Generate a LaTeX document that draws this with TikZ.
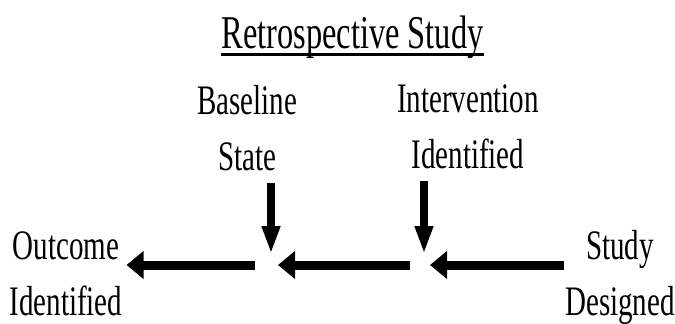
\documentclass[tikz,border=0pt]{standalone}
\usepackage{fontspec}
\setmainfont{Liberation Serif}[FakeStretch=0.69]
\usepackage{xcolor}
\RequirePackage{tikz}
\usetikzlibrary{positioning,calc,arrows.meta}
\tikzset{
	lbl/.style={inner sep=0pt, align=center, anchor=base, font=\fontsize{42}{56}\selectfont},
	harrow/.style={line width=9pt, -{Triangle[length=17pt,width=27pt]}},
	varrow/.style={line width=7.5pt, -{Triangle[length=28pt,width=17pt]}}
}

\begin{document}
\begin{tikzpicture}[x=1pt, y=-1pt]
				\useasboundingbox (0,0) rectangle (675,324);
				\node[lbl, font=\fontsize{47}{56}\selectfont] (title) at (352.5,48) {Retrospective Study};
				\draw [line width=3pt] ([yshift=-6pt]title.base west) -- ([yshift=-6pt]title.base east);
				\node[lbl] (baseline) at (247,170) {Baseline\\State};
				\node[lbl] (interv) at (468,168) {Intervention\\Identified};
				\node[lbl] (outcome) at (66,315) {Outcome\\Identified};
				\node[lbl] (study) at (620,315) {Study\\Designed};
				\coordinate (jb) at (271,265);
				\coordinate (ji) at (424,265);
				\draw [varrow] (baseline.south -| jb) ++(0,12) -- ([yshift=11pt]jb);
				\draw [varrow] (interv.south -| ji) ++(0,12) -- ([yshift=11pt]ji);
				\draw [harrow] ([xshift=140pt]ji) -- ([xshift=6pt]ji);
				\draw [harrow] ([xshift=-14pt]ji) -- ([xshift=7pt]jb);
				\draw [harrow] ([xshift=-16pt]jb) -- ([xshift=4pt]outcome.east |- jb);
			\end{tikzpicture}
\end{document}
